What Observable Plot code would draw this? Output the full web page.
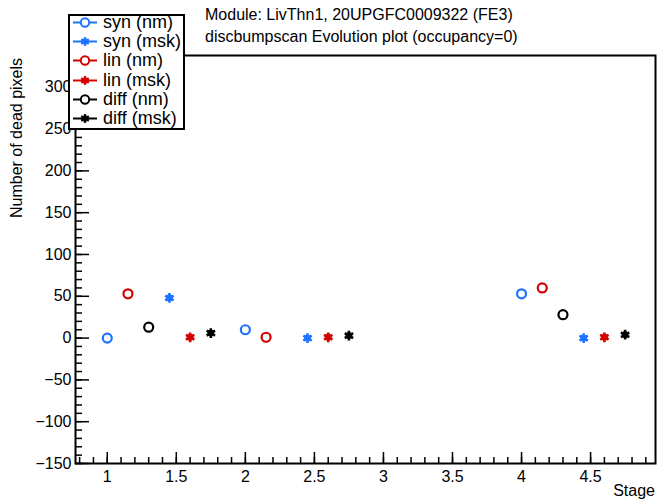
<!DOCTYPE html>
<html><head><meta charset="utf-8">
<script src="https://cdn.jsdelivr.net/npm/d3@7"></script>
<script src="https://cdn.jsdelivr.net/npm/@observablehq/plot@0.6"></script>
<style>
body{margin:0;background:#fff;font-family:"Liberation Sans",Arial,Helvetica,sans-serif;color:#000;}
#wrap{position:relative;width:657px;height:501px;overflow:hidden;}
#wrap svg.plot{position:absolute;left:0;top:0;}
.title{position:absolute;left:205px;top:3.5px;font-size:16px;line-height:22px;white-space:nowrap;}
.ylab{position:absolute;left:16.5px;top:138px;font-size:16px;line-height:16px;white-space:nowrap;transform:translate(-50%,-50%) rotate(-90deg);}
.xlab{position:absolute;right:2px;top:482.5px;font-size:16px;line-height:16px;white-space:nowrap;}
.legend{position:absolute;left:68px;top:14px;width:113px;height:112px;border:2px solid #000;background:#fff;}
.row{position:absolute;left:0;height:19px;display:flex;align-items:center;font-size:18px;white-space:nowrap;}
.row svg{display:block;}
</style></head><body>
<div id="wrap"></div>
<script>
// ---- data ----
const seriesNames = ["syn (nm)", "syn (msk)", "lin (nm)", "lin (msk)", "diff (nm)", "diff (msk)"];
const seriesColors = ["#1f74ff", "#1f74ff", "#d40000", "#d40000", "#000000", "#000000"];
const seriesKinds = ["nm", "msk", "nm", "msk", "nm", "msk"];

const synNmStage = [1, 2, 4];
const synNm = [0, 10, 53];
const synMskStage = [1.45, 2.45, 4.45];
const synMsk = [48, 0, 0];
const linNmStage = [1.15, 2.15, 4.15];
const linNm = [53, 1, 60];
const linMskStage = [1.6, 2.6, 4.6];
const linMsk = [1, 1, 1];
const diffNmStage = [1.3, 4.3];
const diffNm = [13, 28];
const diffMskStage = [1.75, 2.75, 4.75];
const diffMsk = [6, 3, 4];

const xTickLabels = [1, 1.5, 2, 2.5, 3, 3.5, 4, 4.5];
const yTickLabels = [-150, -100, -50, 0, 50, 100, 150, 200, 250, 300];
const xMinorTicks = [0.8,0.9,1.0,1.1,1.2,1.3,1.4,1.5,1.6,1.7,1.8,1.9,2.0,2.1,2.2,2.3,2.4,2.5,2.6,2.7,2.8,2.9,3.0,3.1,3.2,3.3,3.4,3.5,3.6,3.7,3.8,3.9,4.0,4.1,4.2,4.3,4.4,4.5,4.6,4.7,4.8,4.9];
const yMinorTicks = d3.range(-150, 331, 10);

const titleLines = ["Module: LivThn1, 20UPGFC0009322 (FE3)", "discbumpscan Evolution plot (occupancy=0)"];
const yLabel = "Number of dead pixels";
const xLabel = "Stage";

const stages = [synNmStage, synMskStage, linNmStage, linMskStage, diffNmStage, diffMskStage];
const values = [synNm, synMsk, linNm, linMsk, diffNm, diffMsk];

// ---- layout ----
const W = 657, H = 501, mL = 75, mR = 2, mT = 55, mB = 38;
const plotW = W - mL - mR, plotH = H - mT - mB;

const rows = seriesNames.map((name, i) => stages[i].map((s, j) => ({stage: s, value: values[i][j], series: name})));

const pointMarks = [];
seriesNames.forEach((name, i) => {
  const data = rows[i];
  if (seriesKinds[i] === "nm") {
    pointMarks.push(Plot.dot(data, {x: "stage", y: "value", r: 4.5, stroke: seriesColors[i], strokeWidth: 2.2, fill: "none"}));
  } else {
    pointMarks.push(Plot.dot(data, {x: "stage", y: "value", r: 3.4, fill: seriesColors[i], stroke: "none"}));
    pointMarks.push(Plot.dot(data, {x: "stage", y: "value", r: 4.6, symbol: "asterisk", stroke: seriesColors[i], strokeWidth: 2.6}));
  }
});

const fmtY = d => d < 0 ? "\u2212" + Math.abs(d) : String(d);

const chart = Plot.plot({
  width: W, height: H,
  marginLeft: mL, marginRight: mR, marginTop: mT, marginBottom: mB,
  x: {domain: [0.77, 4.97]},
  y: {domain: [-150, 338]},
  style: {fontFamily: "'Liberation Sans', Arial, Helvetica, sans-serif", fontSize: "16px", color: "#000", background: "#fff", overflow: "visible"},
  marks: [
    Plot.tickX(xMinorTicks, {x: d => d, insetTop: plotH - 6, stroke: "#000", strokeWidth: 1.5}),
    Plot.tickX(xTickLabels, {x: d => d, insetTop: plotH - 11, stroke: "#000", strokeWidth: 1.5}),
    Plot.tickY(yMinorTicks, {y: d => d, insetRight: plotW - 7, stroke: "#000", strokeWidth: 1.5}),
    Plot.tickY(yTickLabels, {y: d => d, insetRight: plotW - 14, stroke: "#000", strokeWidth: 1.5}),
    Plot.axisX({ticks: xTickLabels, tickSize: 0, tickPadding: 7, tickFormat: d => String(d), fontSize: 16, label: null}),
    Plot.axisY({ticks: yTickLabels, tickSize: 0, tickPadding: 4, tickFormat: fmtY, fontSize: 16, label: null}),
    Plot.frame({stroke: "#000", strokeWidth: 2}),
    ...pointMarks
  ]
});
chart.classList.add("plot");

const wrap = document.getElementById("wrap");
wrap.appendChild(chart);

const title = document.createElement("div");
title.className = "title";
title.innerHTML = titleLines.map(t => `<div>${t}</div>`).join("");
wrap.appendChild(title);

const yl = document.createElement("div");
yl.className = "ylab"; yl.textContent = yLabel;
wrap.appendChild(yl);

const xl = document.createElement("div");
xl.className = "xlab"; xl.textContent = xLabel;
wrap.appendChild(xl);

const legend = document.createElement("div");
legend.className = "legend";
seriesNames.forEach((name, i) => {
  const row = document.createElement("div");
  row.className = "row";
  row.style.top = (22.7 + i * 19.1 - 16 - 9.5) + "px";
  const c = seriesColors[i];
  let marker;
  if (seriesKinds[i] === "nm") {
    marker = `<circle cx="15" cy="9.5" r="4.2" fill="#fff" stroke="${c}" stroke-width="2"/>`;
  } else {
    const arms = [0, 60, 120].map(a => {
      const r = 4.4, rad = a * Math.PI / 180;
      return `<line x1="${15 - r * Math.sin(rad)}" y1="${9.5 - r * Math.cos(rad)}" x2="${15 + r * Math.sin(rad)}" y2="${9.5 + r * Math.cos(rad)}" stroke="${c}" stroke-width="2.4"/>`;
    }).join("");
    marker = `<circle cx="15" cy="9.5" r="3" fill="${c}"/>` + arms;
  }
  row.innerHTML = `<svg width="33" height="19"><line x1="3" x2="27" y1="9.5" y2="9.5" stroke="${c}" stroke-width="2"/>${marker}</svg><span>${name}</span>`;
  legend.appendChild(row);
});
wrap.appendChild(legend);
</script>
</body></html>
